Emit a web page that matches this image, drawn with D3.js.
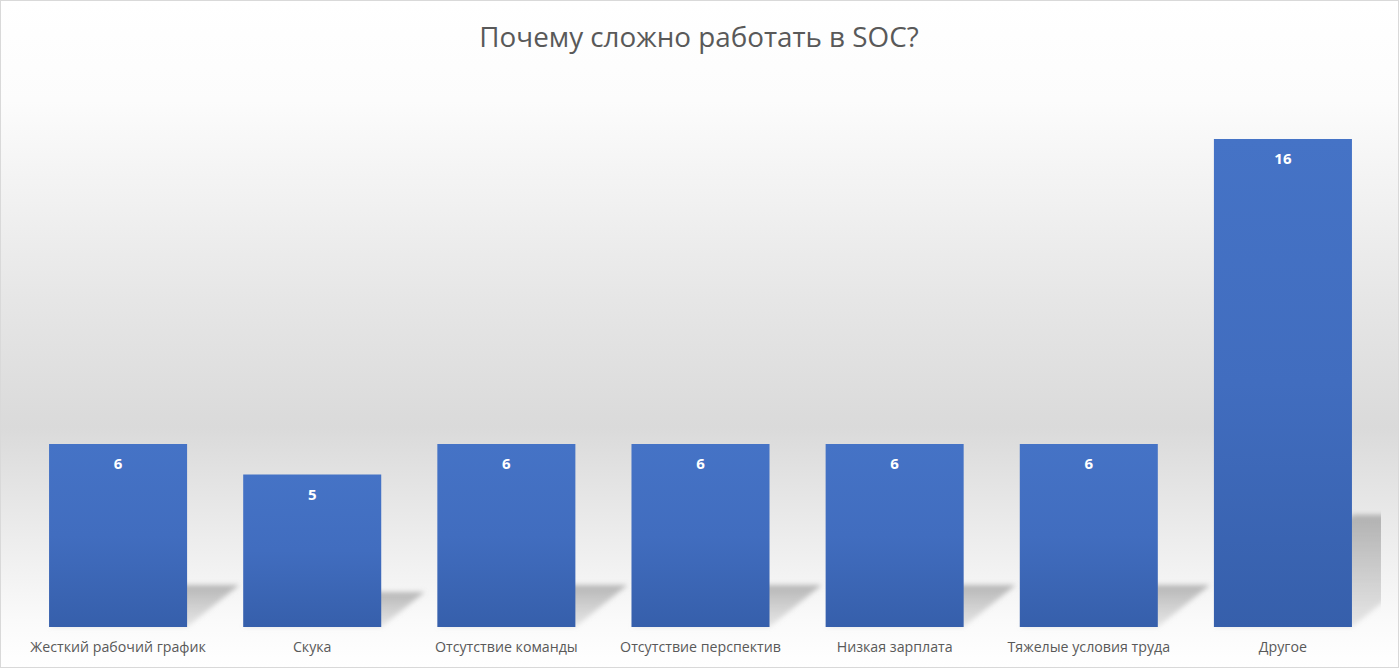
<!DOCTYPE html>
<html>
<head>
<meta charset="utf-8">
<script src="https://cdn.jsdelivr.net/npm/d3@7"></script>
<style>
  body { margin: 0; background: #fff; }
  svg { display: block; font-family: "Open Sans", "Noto Sans", sans-serif; }
</style>
</head>
<body>
<svg></svg>
<script>
const categories = [
  "Жесткий рабочий график",
  "Скука",
  "Отсутствие команды",
  "Отсутствие перспектив",
  "Низкая зарплата",
  "Тяжелые условия труда",
  "Другое",
];
const values = [6, 5, 6, 6, 6, 6, 16];
const title = "Почему сложно работать в SOC?";

let width = 1400,
  height = 669;

let svg = d3.select("svg").attr("width", width).attr("height", height);

const defs = svg.append("defs");

// background: white top, grey middle, white near labels
const bg = defs
  .append("linearGradient")
  .attr("id", "bg")
  .attr("x1", 0).attr("y1", 0).attr("x2", 0).attr("y2", 1);
[
  [0, "#ffffff"],
  [0.15, "#fcfcfc"],
  [0.45, "#e6e6e6"],
  [0.64, "#dadada"],
  [0.8, "#ececec"],
  [0.93, "#fafafa"],
  [1, "#ffffff"],
].forEach(([o, c]) => bg.append("stop").attr("offset", o).attr("stop-color", c));

const barGrad = defs
  .append("linearGradient")
  .attr("id", "bar")
  .attr("x1", 0).attr("y1", 0).attr("x2", 0).attr("y2", 1);
barGrad.append("stop").attr("offset", 0).attr("stop-color", "#4573c6");
barGrad.append("stop").attr("offset", 0.5).attr("stop-color", "#416dbf");
barGrad.append("stop").attr("offset", 1).attr("stop-color", "#365fab");

const shadowGrad = defs
  .append("linearGradient")
  .attr("id", "shadow")
  .attr("x1", 0).attr("y1", 0).attr("x2", 0).attr("y2", 1);
shadowGrad.append("stop").attr("offset", 0).attr("stop-color", "#8c8c8c").attr("stop-opacity", 0.6);
shadowGrad.append("stop").attr("offset", 1).attr("stop-color", "#a6a6a6").attr("stop-opacity", 0.25);

defs.append("filter").attr("id", "blur")
  .attr("x", "-20%").attr("y", "-20%").attr("width", "140%").attr("height", "140%")
  .append("feGaussianBlur").attr("stdDeviation", 2.5);

defs.append("clipPath").attr("id", "plot-clip")
  .append("rect").attr("x", 0).attr("y", 0).attr("width", 1381).attr("height", 640);

svg.append("rect")
  .attr("x", 0.5).attr("y", 0.5)
  .attr("width", width - 2).attr("height", height - 2)
  .attr("fill", "url(#bg)")
  .attr("stroke", "#d9d9d9");

// Title
svg.append("text")
  .attr("x", 699)
  .attr("y", 47)
  .attr("text-anchor", "middle")
  .attr("fill", "#595959")
  .style("font-size", "27.8px")
  .text(title);

let x = d3.scaleBand()
  .domain(categories)
  .range([21, 1380])
  .paddingInner(0.289)
  .paddingOuter(0.1445);

let y = d3.scaleLinear().domain([0, 16]).range([627, 139]);

const data = categories.map((c, i) => ({ name: c, value: values[i] }));

// perspective shadows (flattened, leaning right)
const k = 0.23, lean = 1.24;
svg.append("g")
  .attr("clip-path", "url(#plot-clip)")
  .selectAll("path")
  .data(data)
  .enter()
  .append("path")
  .attr("d", (d) => {
    const x0 = x(d.name), x1 = x0 + x.bandwidth();
    const h = (y(0) - y(d.value)) * k;
    const dx = h * lean;
    return `M${x0},${y(0)}L${x1},${y(0)}L${x1 + dx},${y(0) - h}L${x0 + dx},${y(0) - h}Z`;
  })
  .attr("fill", "url(#shadow)")
  .attr("filter", "url(#blur)");

// bars
svg.append("g")
  .selectAll("rect")
  .data(data)
  .enter()
  .append("rect")
  .attr("x", (d) => x(d.name))
  .attr("y", (d) => y(d.value))
  .attr("width", x.bandwidth())
  .attr("height", (d) => y(0) - y(d.value))
  .attr("fill", "url(#bar)");

// value labels
svg.append("g")
  .selectAll("text")
  .data(data)
  .enter()
  .append("text")
  .attr("x", (d) => x(d.name) + x.bandwidth() / 2)
  .attr("y", (d) => y(d.value) + 25)
  .attr("text-anchor", "middle")
  .attr("fill", "#ffffff")
  .style("font-size", "15px")
  .style("font-weight", "bold")
  .text((d) => d.value);

// category axis labels
let xAxis = d3.axisBottom(x).tickSize(0).tickPadding(15);
let axisG = svg.append("g")
  .attr("transform", `translate(0,${y(0)})`)
  .call(xAxis);
axisG.select(".domain").remove();
axisG.selectAll("text")
  .attr("fill", "#595959")
  .style("font-size", "14.2px")
  .style("font-family", "'Open Sans', 'Noto Sans', sans-serif");
</script>
</body>
</html>
